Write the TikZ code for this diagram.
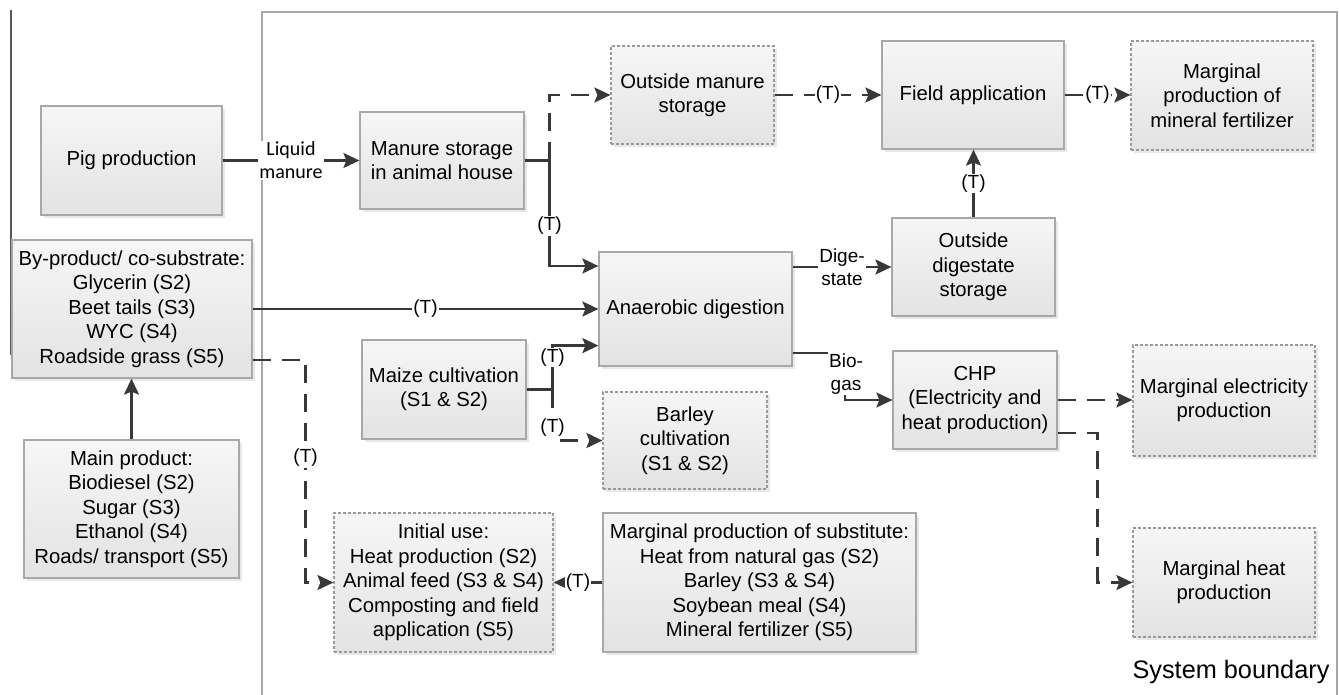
\documentclass[tikz,border=0pt]{standalone}
\usepackage{fontspec}
\setmainfont{Liberation Sans}
\newfontfamily\calfont{Carlito}
\usetikzlibrary{arrows.meta,shadows,calc}
\definecolor{boxline}{HTML}{A8A8A8}
\definecolor{dboxline}{HTML}{9A9A9A}
\definecolor{arrowc}{HTML}{383838}
\definecolor{boxtop}{HTML}{F6F6F6}
\definecolor{boxbot}{HTML}{E3E3E3}
\definecolor{bound}{HTML}{A8A8A8}
\tikzset{
  box/.style={draw=boxline, line width=1.2pt, top color=boxtop, bottom color=boxbot,
    drop shadow={shadow xshift=3pt, shadow yshift=-3pt, fill=black!18},
    align=center, inner sep=2pt, font=\fontsize{20.3}{24.4}\selectfont, text=black},
  dbox/.style={box, draw=dboxline, dash pattern=on 3pt off 2pt},
  conn/.style={draw=arrowc, line width=2.3pt},
  arr/.style={conn, -{Stealth[length=16pt,width=15pt,inset=3pt]}},
  darr/.style={arr, dash pattern=on 18pt off 11pt},
  lab/.style={fill=white, inner sep=1pt, font=\fontsize{19}{23}\selectfont, align=center, text=black},
}
\begin{document}
\begin{tikzpicture}[x=1pt,y=-1pt]
\useasboundingbox (0,0) rectangle (1339,695);
% system boundary and left line
\draw[bound, line width=1.3pt] (262,695) -- (262,12) -- (1337,12) -- (1337,695);
\draw[draw=black!65, line width=2pt] (11,10) -- (11,355);
\node[font=\fontsize{25.3}{30}\selectfont] (sb) at (1231,672) {System boundary};

% boxes
\node[box, minimum width=181pt, minimum height=109pt] (pig) at (131.5,160.5) {Pig production};
\node[box, minimum width=164pt, minimum height=97pt] (msah) at (442,160.5) {Manure storage\\in animal house};
\node[dbox, minimum width=163pt, minimum height=98pt] (oms) at (692.5,95) {Outside manure\\storage};
\node[box, minimum width=182pt, minimum height=108pt] (field) at (973,95) {Field application};
\node[dbox, minimum width=182pt, minimum height=109pt] (mmf) at (1222,95.5) {Marginal\\production of\\mineral fertilizer};
\node[box, minimum width=163pt, minimum height=98pt] (ods) at (973.5,267) {Outside\\digestate\\storage};
\node[box, minimum width=193pt, minimum height=114pt] (ad) at (695.5,309) {Anaerobic digestion};
\node[box, minimum width=240pt, minimum height=138pt] (byp) at (132,309) {By-product/ co-substrate:\\Glycerin (S2)\\Beet tails (S3)\\WYC (S4)\\Roadside grass (S5)};
\node[box, minimum width=215pt, minimum height=138pt] (mainp) at (131.5,509) {Main product:\\Biodiesel (S2)\\Sugar (S3)\\Ethanol (S4)\\Roads/ transport (S5)};
\node[box, minimum width=164pt, minimum height=99pt] (maize) at (444,389.5) {Maize cultivation\\(S1 \& S2)};
\node[dbox, minimum width=164pt, minimum height=97pt] (barley) at (685,440.5) {Barley\\cultivation\\(S1 \& S2)};
\node[dbox, minimum width=219pt, minimum height=139pt] (init) at (443.5,582.5) {Initial use:\\Heat production (S2)\\Animal feed (S3 \& S4)\\Composting and field\\application (S5)};
\node[box, minimum width=313pt, minimum height=139pt] (msub) at (759.5,582.5) {Marginal production of substitute:\\Heat from natural gas (S2)\\Barley (S3 \& S4)\\Soybean meal (S4)\\Mineral fertilizer (S5)};
\node[box, minimum width=164pt, minimum height=98pt] (chp) at (975,400) {CHP\\(Electricity and\\heat production)};
\node[dbox, minimum width=182pt, minimum height=111pt] (mel) at (1224,400.5) {Marginal electricity\\production};
\node[dbox, minimum width=182pt, minimum height=109pt] (mheat) at (1224,582.5) {Marginal heat\\production};

% junction coordinates
\coordinate (j1) at ($(msah.east)+(25,0)$);
\coordinate (j2) at ($(maize.east)+(26,0)$);
\coordinate (bg) at (845,353);

% connectors
\draw[arr] (pig.east) -- node[lab, font=\calfont\fontsize{20}{23}\selectfont]{Liquid\\manure} (msah.west);
\draw[conn] (msah.east) -- (j1);
\draw[darr] (j1) |- (oms.west);
\draw[arr] (j1) |- node[lab, pos=0.31]{(T)} ($(ad.west)+(0,-43)$);
\draw[darr] (oms.east) -- node[lab]{(T)} (oms.east -| field.west);
\draw[darr] (field.east) -- node[lab]{(T)} (field.east -| mmf.west);
\draw[arr] (ods.north) -- node[lab]{(T)} (ods.north |- field.south);
\draw[arr] (ad.east |- ods.west) -- node[lab]{Dige-\\state} (ods.west);
\draw[arr] (byp.east) -- node[lab]{(T)} (byp.east -| ad.west);
\draw[conn] (maize.east) -- (j2);
\draw[arr] (j2) |- node[lab, pos=0.365]{(T)} ($(ad.south west)+(0,-21)$);
\draw[darr] (j2) |- node[lab, pos=0.37]{(T)} (barley.west);
\draw[arr] ($(ad.east)+(0,44)$) -- (bg) |- node[lab, pos=0.22, xshift=1pt]{Bio-\\gas} (chp.west);
\draw[darr] (chp.east) -- (chp.east -| mel.west);
\draw[darr] ($(chp.east)+(0,33)$) -- ++(40,0) |- (mheat.west);
\draw[darr] ($(byp.east)+(0,51)$) -- ++(53,0) |- node[lab, pos=0.22]{(T)} (init.west);
\draw[arr] (mainp.north) -- (mainp.north |- byp.south);
\draw[arr] (msub.west) -- node[lab]{(T)} (init.east);
\end{tikzpicture}
\end{document}
